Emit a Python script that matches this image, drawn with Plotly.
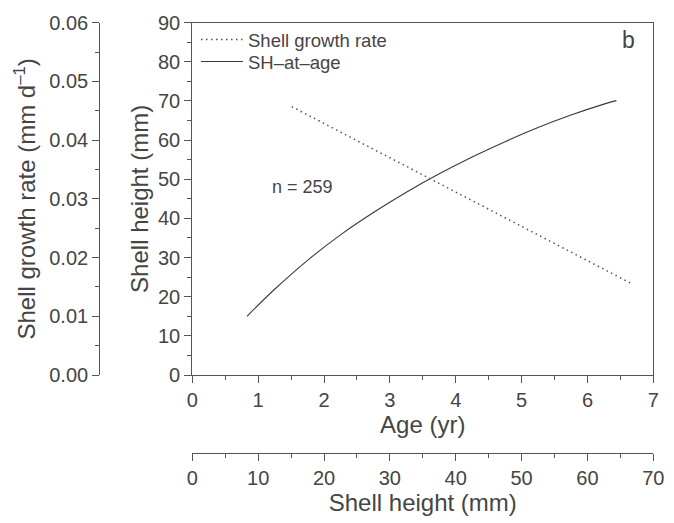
import plotly.graph_objects as go

# SH-at-age curve (Age in yr, shell height in mm)
age_yr = [0.83, 1.25, 1.75, 2.25, 2.75, 3.25, 3.75, 4.25, 4.75, 5.25, 5.75, 6.25, 6.44]
sh_at_age_mm = [15.0, 21.9, 29.3, 35.8, 41.5, 46.7, 51.4, 55.7, 59.6, 63.2, 66.4, 69.2, 70.1]

# Shell growth rate vs shell height
gr_sh_mm = [15.1, 36.5, 66.8]
growth_rate = [0.0457, 0.0332, 0.0155]

x_ticks = [0, 1, 2, 3, 4, 5, 6, 7]
sh_ticks = [0, 10, 20, 30, 40, 50, 60, 70]
y_ticks = [0, 10, 20, 30, 40, 50, 60, 70, 80, 90]
gr_ticks = [0.00, 0.01, 0.02, 0.03, 0.04, 0.05, 0.06]

W, H = 674, 523
FONT = "Liberation Sans, Arial, Helvetica, sans-serif"
TXT = "#454545"
LINE = "#555555"
TICKSZ = 20
TITLESZ = 24
LEGSZ = 18.5

x0, x1 = 192.3, 653.3
ytop, ybot = 22.7, 375.0
dom_x = [x0 / W, x1 / W]
dom_y = [1 - ybot / H, 1 - ytop / H]

fig = go.Figure()
fig.add_trace(go.Scatter(
    x=gr_sh_mm, y=growth_rate, xaxis="x2", yaxis="y2", mode="lines",
    name="Shell growth rate", legend="legend",
    line=dict(color="#555555", width=1.5, dash="1.5px,3.5px"),
))
fig.add_trace(go.Scatter(
    x=age_yr, y=sh_at_age_mm, mode="lines", name="SH\u2013at\u2013age", legend="legend2",
    line=dict(color="#3a3a3a", width=1.1, shape="spline"),
))

axis_common = dict(
    showline=True, linecolor=LINE, linewidth=1.2, ticks="outside", ticklen=7,
    tickwidth=1.2, tickcolor=LINE, showgrid=False, zeroline=False,
    tickfont=dict(family=FONT, size=TICKSZ, color=TXT), automargin=False,
)

legend_common = dict(xanchor="left", yanchor="middle", bgcolor="rgba(0,0,0,0)",
                     font=dict(family=FONT, size=LEGSZ, color=TXT),
                     itemwidth=42, borderwidth=0)

fig.update_layout(
    width=W, height=H, margin=dict(l=0, r=0, t=0, b=0),
    paper_bgcolor="white", plot_bgcolor="white",
    font=dict(family=FONT, color=TXT),
    showlegend=True,
    legend=dict(x=196 / W, y=1 - 40 / H, **legend_common),
    legend2=dict(x=196 / W, y=1 - 62 / H, **legend_common),
    xaxis=dict(domain=dom_x, range=[0, 7], tickvals=x_ticks, anchor="y",
               mirror=True,
               minor=dict(ticks="outside", ticklen=4, dtick=0.5, tickcolor=LINE),
               title=dict(text="Age (yr)", font=dict(family=FONT, size=TITLESZ, color=TXT), standoff=2),
               **axis_common),
    yaxis=dict(domain=dom_y, range=[0, 90], tickvals=y_ticks, anchor="x",
               mirror=True,
               minor=dict(ticks="outside", ticklen=4, dtick=5, tickcolor=LINE),
               title=dict(text="Shell height (mm)", font=dict(family=FONT, size=TITLESZ, color=TXT), standoff=2),
               **axis_common),
    xaxis2=dict(overlaying="x", anchor="free", position=1 - 453 / H, side="bottom",
                range=[0, 70], tickvals=sh_ticks,
                minor=dict(ticks="outside", ticklen=4, dtick=5, tickcolor=LINE),
                title=dict(text="Shell height (mm)", font=dict(family=FONT, size=TITLESZ, color=TXT), standoff=2),
                **axis_common),
    yaxis2=dict(overlaying="y", anchor="free", position=99.3 / W, side="left",
                range=[0, 0.06], tickvals=gr_ticks, tickformat=".2f",
                minor=dict(ticks="outside", ticklen=4, dtick=0.005, tickcolor=LINE),
                title=dict(text="Shell growth rate (mm d<sup>\u20131</sup>)",
                           font=dict(family=FONT, size=TITLESZ, color=TXT), standoff=5),
                **axis_common),
    annotations=[
        dict(text="b", x=628 / W, y=1 - 40 / H, xref="paper", yref="paper",
             xanchor="center", yanchor="middle",
             showarrow=False, font=dict(family=FONT, size=23, color=TXT)),
        dict(text="n = 259", x=270 / W, y=1 - 187 / H, xref="paper", yref="paper",
             xanchor="left", yanchor="middle",
             showarrow=False, font=dict(family=FONT, size=18, color=TXT)),
    ],
)

fig.write_html("out.html")
